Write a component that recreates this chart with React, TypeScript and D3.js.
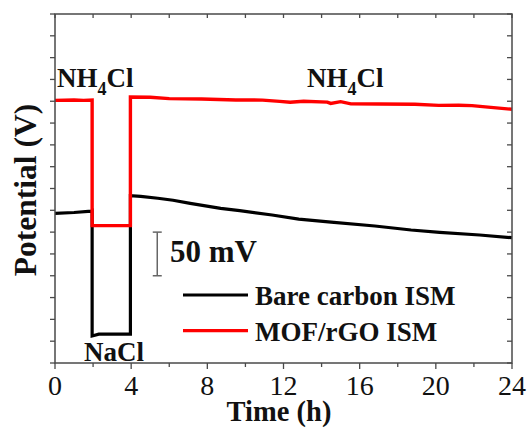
import React from "react";
import * as d3 from "d3";

// Time (h), potential (mV, arbitrary offset)
const bareTime = [0, 1, 1.9, 1.95, 1.95, 2.3, 3.96, 3.96, 4.5, 5.4, 6.2, 7.1, 8.7, 9.7, 11.4, 12.8, 14.5, 16.8, 18.7, 20.2, 22.3, 24];
const bareValue = [171.5, 172.5, 174, 174.5, 31, 33, 33, 191.7, 191, 188.8, 186.5, 183, 177.3, 174.6, 169.6, 165, 161.5, 157, 152.4, 149.8, 146.7, 143.6];

const mofTime = [0, 1, 1.5, 1.95, 1.95, 3, 3.96, 3.96, 5, 6, 7.7, 9.5, 10.9, 11.8, 12.35, 13.06, 14.3, 14.48, 15.0, 15.54, 17, 18.9, 20.15, 21.2, 21.9, 22.6, 24];
const mofValue = [301, 301.5, 301, 301.5, 157.5, 157.5, 157.5, 304.8, 304.5, 303, 302.5, 301.5, 301.3, 299.8, 298.8, 300, 299, 297.5, 299.5, 297, 296.8, 296.5, 295.3, 295.5, 295, 293.6, 290.8];

const xTicks = [0, 4, 8, 12, 16, 20, 24];
const xMinorTicks = [2, 6, 10, 14, 18, 22];
const yTicks = d3.range(0, 401, 25);
const legendLabels = ["Bare carbon ISM", "MOF/rGO ISM"];
const legendColors = ["#000000", "#ff0000"];
const scaleBarLow = 100;
const scaleBarHigh = 150;
const scaleBarTime = 5.37;

const W = 529;
const H = 428;
const left = 55;
const right = 512;
const top = 14;
const bottom = 363;
const FONT = "'Liberation Serif', 'Times New Roman', serif";

export default function App() {
  const x = d3.scaleLinear().domain([0, 24]).range([left, right]);
  const y = d3.scaleLinear().domain([0, 400]).range([bottom, top]);
  const line = d3
    .line<[number, number]>()
    .x((d) => x(d[0]))
    .y((d) => y(d[1]));
  const bare = bareTime.map((t, i) => [t, bareValue[i]] as [number, number]);
  const mof = mofTime.map((t, i) => [t, mofValue[i]] as [number, number]);
  const axisColor = "#4a4a4a";

  return (
    <svg width={W} height={H} style={{ position: "absolute", left: 0, top: 0 }}>
      <rect x={0} y={0} width={W} height={H} fill="#fff" />
      {/* data */}
      <path d={line(bare) || ""} fill="none" stroke="#000" strokeWidth={3.2} strokeLinejoin="miter" />
      <path d={line(mof) || ""} fill="none" stroke="#ff0000" strokeWidth={3.4} strokeLinejoin="miter" />
      {/* frame */}
      <rect x={left} y={top} width={right - left} height={bottom - top} fill="none" stroke={axisColor} strokeWidth={1.5} />
      {/* y ticks */}
      {yTicks.map((v) => (
        <g key={"y" + v}>
          <line x1={left - 5} x2={left} y1={y(v)} y2={y(v)} stroke={axisColor} strokeWidth={1.3} />
          <line x1={right - 5} x2={right} y1={y(v)} y2={y(v)} stroke={axisColor} strokeWidth={1.3} />
        </g>
      ))}
      {/* x ticks */}
      {xTicks.map((t) => (
        <g key={"x" + t}>
          <line x1={x(t)} x2={x(t)} y1={bottom} y2={bottom + 6} stroke={axisColor} strokeWidth={1.3} />
          <line x1={x(t)} x2={x(t)} y1={top} y2={top + 4} stroke={axisColor} strokeWidth={1.3} />
          <text x={x(t)} y={395} fontFamily={FONT} fontSize={28} textAnchor="middle" fill="#111">
            {t}
          </text>
        </g>
      ))}
      {xMinorTicks.map((t) => (
        <g key={"xm" + t}>
          <line x1={x(t)} x2={x(t)} y1={bottom} y2={bottom + 4} stroke={axisColor} strokeWidth={1.3} />
          <line x1={x(t)} x2={x(t)} y1={top} y2={top + 4} stroke={axisColor} strokeWidth={1.3} />
        </g>
      ))}
      {/* axis titles */}
      <text x={279} y={421} fontFamily={FONT} fontSize={28.5} fontWeight="bold" textAnchor="middle" fill="#111">
        Time (h)
      </text>
      <text
        transform={`translate(36, 190) rotate(-90)`}
        fontFamily={FONT}
        fontSize={31.5}
        fontWeight="bold"
        textAnchor="middle"
        fill="#111"
      >
        Potential (V)
      </text>
      {/* annotations */}
      <text x={57} y={87} fontFamily={FONT} fontSize={27} fontWeight="bold" fill="#111">
        NH<tspan fontSize={18} dy={8}>4</tspan><tspan dy={-8}>Cl</tspan>
      </text>
      <text x={307} y={87} fontFamily={FONT} fontSize={27} fontWeight="bold" fill="#111">
        NH<tspan fontSize={18} dy={8}>4</tspan><tspan dy={-8}>Cl</tspan>
      </text>
      <text x={84} y={361} fontFamily={FONT} fontSize={27} fontWeight="bold" fill="#111">
        NaCl
      </text>
      {/* scale bar */}
      <g stroke="#666" strokeWidth={1.5}>
        <line x1={x(scaleBarTime)} x2={x(scaleBarTime)} y1={y(scaleBarLow)} y2={y(scaleBarHigh)} />
        <line x1={x(scaleBarTime) - 4.5} x2={x(scaleBarTime) + 4.5} y1={y(scaleBarLow)} y2={y(scaleBarLow)} />
        <line x1={x(scaleBarTime) - 4.5} x2={x(scaleBarTime) + 4.5} y1={y(scaleBarHigh)} y2={y(scaleBarHigh)} />
      </g>
      <text x={170} y={262} fontFamily={FONT} fontSize={31} fontWeight="bold" fill="#111">
        50 mV
      </text>
      {/* legend */}
      {legendLabels.map((lab, i) => (
        <g key={lab}>
          <line x1={183} x2={248} y1={295 + i * 35.7} y2={295 + i * 35.7} stroke={legendColors[i]} strokeWidth={3.2} />
          <text x={255} y={305 + i * 36} fontFamily={FONT} fontSize={27} fontWeight="bold" fill="#111">
            {lab}
          </text>
        </g>
      ))}
    </svg>
  );
}
